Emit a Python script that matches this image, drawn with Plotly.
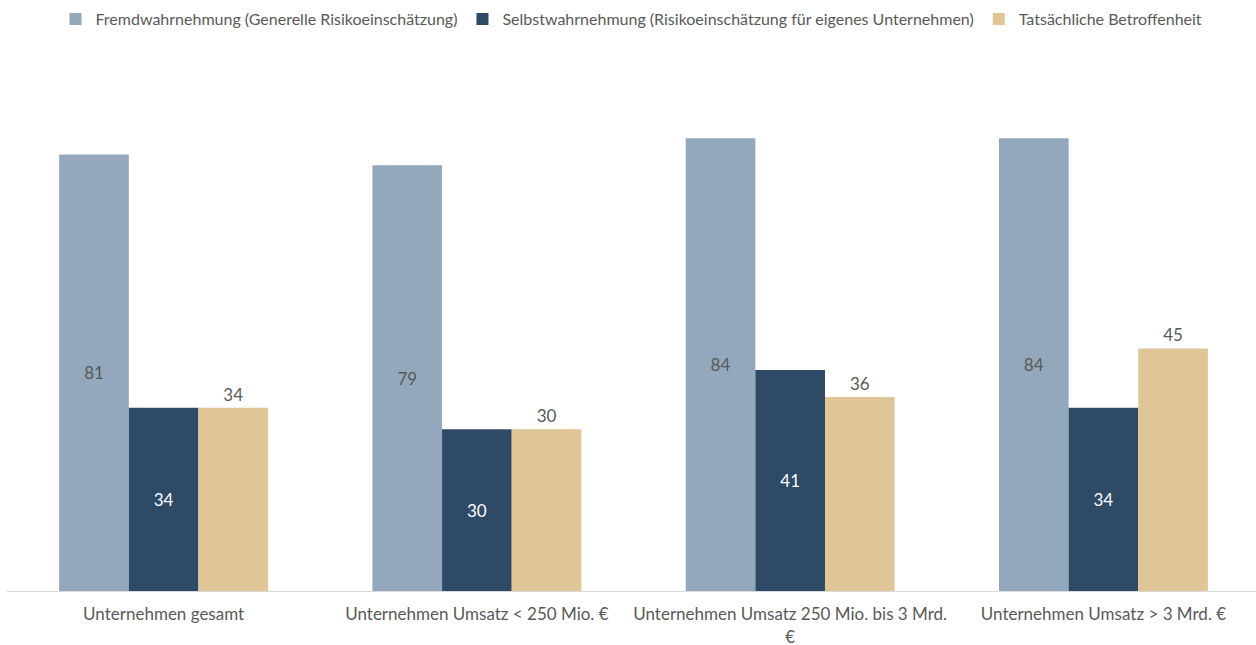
import plotly.graph_objects as go

categories = [
    "Unternehmen gesamt",
    "Unternehmen Umsatz < 250 Mio. €",
    "Unternehmen Umsatz 250 Mio. bis 3 Mrd.<br>€",
    "Unternehmen Umsatz > 3 Mrd. €",
]
fremd = [81, 79, 84, 84]
selbst = [34, 30, 41, 34]
betroffen = [34, 30, 36, 45]

names = [
    "Fremdwahrnehmung (Generelle Risikoeinschätzung)",
    "Selbstwahrnehmung (Risikoeinschätzung für eigenes Unternehmen)",
    "Tatsächliche Betroffenheit",
]

FONT = "Lato, 'Open Sans', sans-serif"
GRAY = "#595959"

fig = go.Figure()
fig.add_bar(x=categories, y=fremd, name=names[0], marker_color="#93A8BC",
            text=fremd, textposition="inside", insidetextanchor="middle",
            textfont=dict(color=GRAY, size=17, family=FONT))
fig.add_bar(x=categories, y=selbst, name=names[1], marker_color="#2E4A66",
            text=selbst, textposition="inside", insidetextanchor="middle",
            textfont=dict(color="white", size=17, family=FONT))
fig.add_bar(x=categories, y=betroffen, name=names[2], marker_color="#E0C597",
            text=betroffen, textposition="outside",
            textfont=dict(color=GRAY, size=17, family=FONT))

fig.update_traces(marker_line_width=0, cliponaxis=False)

fig.update_layout(
    width=1256, height=645,
    margin=dict(l=7, r=0, t=52, b=54, autoexpand=False),
    paper_bgcolor="white", plot_bgcolor="white",
    barmode="group", bargap=0.333, bargroupgap=0,
    font=dict(family=FONT, size=17, color=GRAY),
    uniformtext=dict(mode="show", minsize=17),
    legend=dict(orientation="h", x=0.5, xanchor="center",
                yref="container", y=1 - 19 / 645, yanchor="middle",
                font=dict(size=16, color=GRAY), itemwidth=30, tracegroupgap=0),
    showlegend=True,
)
fig.update_xaxes(range=[-0.5, 3.487], showline=True, linecolor="#D9D9D9", linewidth=1,
                 ticks="", ticklabelstandoff=8,
                 tickfont=dict(size=17, color=GRAY), showgrid=False)
fig.update_yaxes(range=[0, 100], visible=False, showgrid=False)

fig.write_html("out.html", config={"displayModeBar": False},
               post_script="document.body.style.margin='0';")
